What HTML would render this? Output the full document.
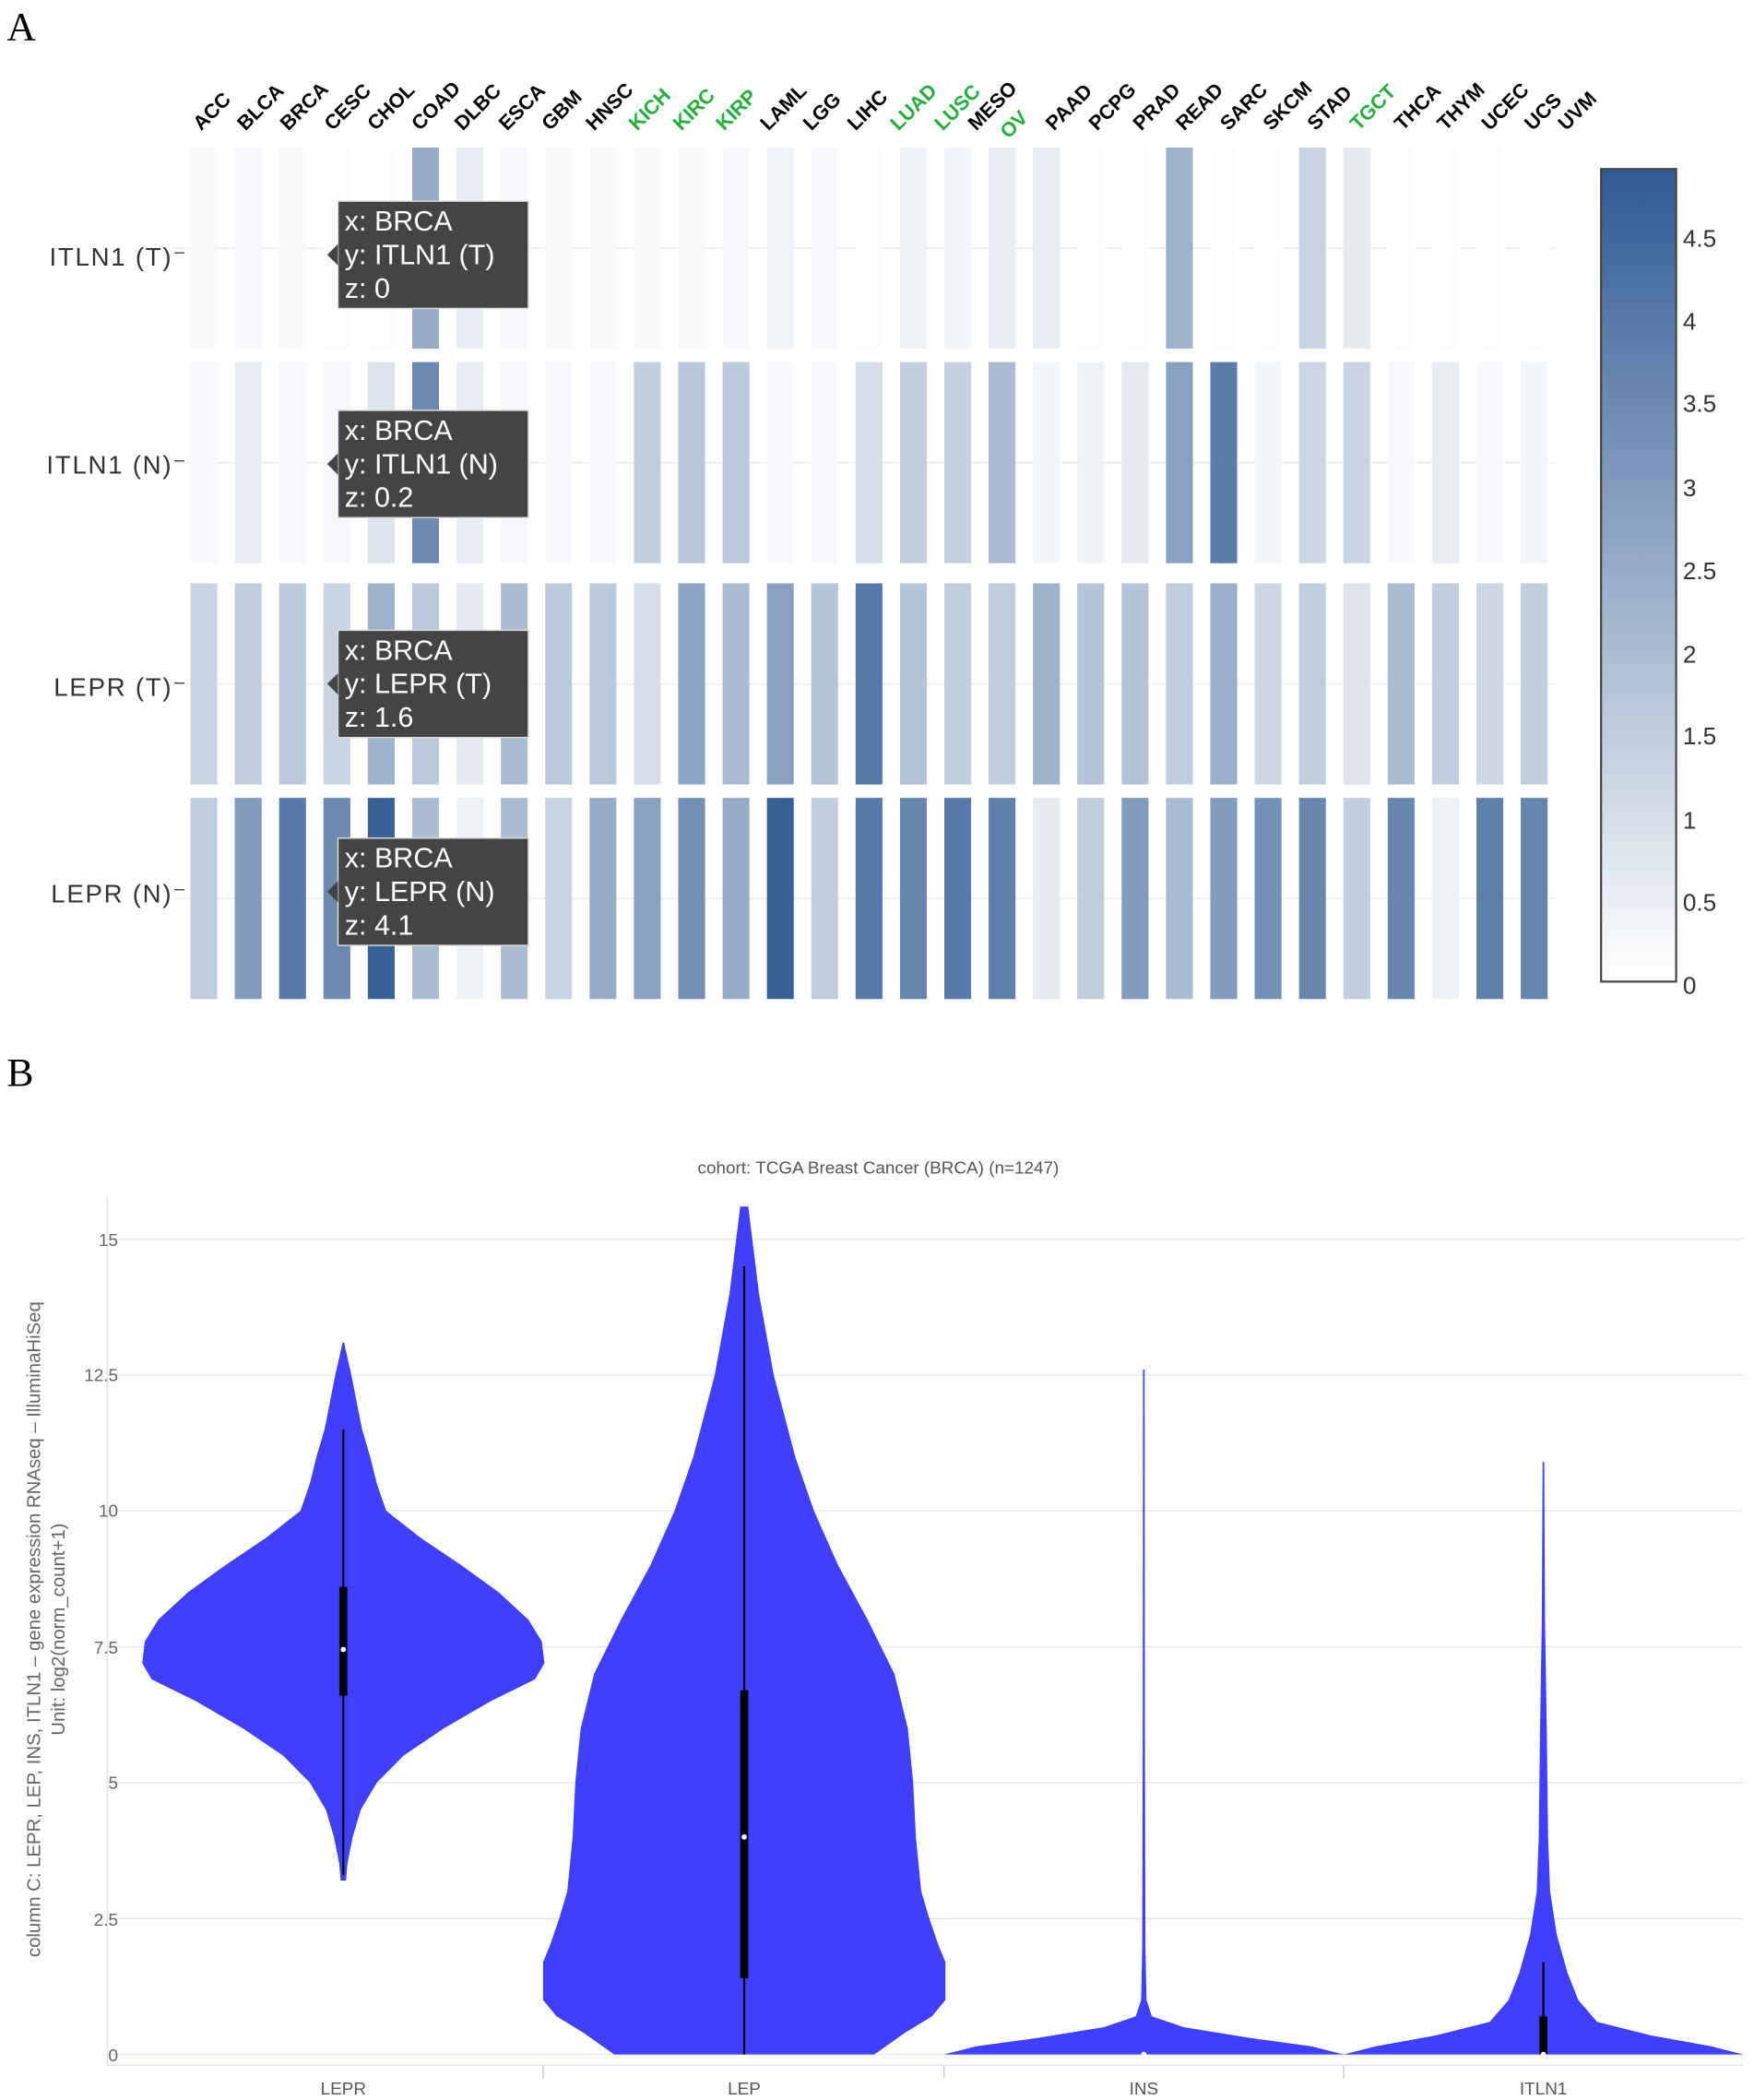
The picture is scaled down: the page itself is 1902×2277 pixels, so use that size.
<!DOCTYPE html>
<html><head><meta charset="utf-8"><style>
html,body{margin:0;padding:0;background:#fff}
svg{display:block}
text{font-family:"Liberation Sans",sans-serif}
</style></head><body>
<svg id="s" width="1902" height="2277" viewBox="0 0 1308 1566" xmlns="http://www.w3.org/2000/svg">
<defs><linearGradient id="cb" x1="0" y1="1" x2="0" y2="0"><stop offset="0" stop-color="#ffffff"/><stop offset="1" stop-color="#2f5b94"/></linearGradient></defs>
<text x="5" y="30" font-size="30" style="font-family:'Liberation Serif',serif">A</text>
<text x="5" y="810" font-size="30" style="font-family:'Liberation Serif',serif">B</text>
<g id="bars"></g>
<g font-size="15" font-weight="bold" id="xl">
<text transform="translate(150,98) rotate(-45)">ACC</text>
<text transform="translate(183,98) rotate(-45)">BLCA</text>
<text transform="translate(215,98) rotate(-45)">BRCA</text>
<text transform="translate(248,98) rotate(-45)">CESC</text>
<text transform="translate(280,98) rotate(-45)">CHOL</text>
<text transform="translate(313,98) rotate(-45)">COAD</text>
<text transform="translate(345,98) rotate(-45)">DLBC</text>
<text transform="translate(378,98) rotate(-45)">ESCA</text>
<text transform="translate(410,98) rotate(-45)">GBM</text>
<text transform="translate(443,98) rotate(-45)">HNSC</text>
<text transform="translate(475,98) rotate(-45)" fill="#22b03c">KICH</text>
<text transform="translate(508,98) rotate(-45)" fill="#22b03c">KIRC</text>
<text transform="translate(540,98) rotate(-45)" fill="#22b03c">KIRP</text>
<text transform="translate(573,98) rotate(-45)">LAML</text>
<text transform="translate(605,98) rotate(-45)">LGG</text>
<text transform="translate(638,98) rotate(-45)">LIHC</text>
<text transform="translate(670,98) rotate(-45)" fill="#22b03c">LUAD</text>
<text transform="translate(703,98) rotate(-45)" fill="#22b03c">LUSC</text>
<text transform="translate(728,98) rotate(-45)">MESO</text>
<text transform="translate(752,104) rotate(-45)" fill="#22b03c">OV</text>
<text transform="translate(786,98) rotate(-45)">PAAD</text>
<text transform="translate(818,98) rotate(-45)">PCPG</text>
<text transform="translate(851,98) rotate(-45)">PRAD</text>
<text transform="translate(883,98) rotate(-45)">READ</text>
<text transform="translate(916,98) rotate(-45)">SARC</text>
<text transform="translate(948,98) rotate(-45)">SKCM</text>
<text transform="translate(981,98) rotate(-45)">STAD</text>
<text transform="translate(1013,98) rotate(-45)" fill="#22b03c">TGCT</text>
<text transform="translate(1046,98) rotate(-45)">THCA</text>
<text transform="translate(1078,98) rotate(-45)">THYM</text>
<text transform="translate(1111,98) rotate(-45)">UCEC</text>
<text transform="translate(1143,98) rotate(-45)">UCS</text>
<text transform="translate(1168,98) rotate(-45)">UVM</text>
</g>
<g font-size="19" fill="#333" text-anchor="end" letter-spacing="1.2">
<text x="140" y="198">ITLN1 (T)⁻</text>
<text x="140" y="353">ITLN1 (N)⁻</text>
<text x="140" y="519">LEPR (T)⁻</text>
<text x="140" y="673">LEPR (N)⁻</text>
</g>
<g id="tips" font-size="21" fill="#fff"></g>
<rect x="1194" y="126" width="56" height="606" fill="url(#cb)" stroke="#444" stroke-width="1.5"/>
<g font-size="18" fill="#333">
<text x="1255" y="184">4.5</text><text x="1255" y="246">4</text><text x="1255" y="307">3.5</text>
<text x="1255" y="370">3</text><text x="1255" y="432">2.5</text><text x="1255" y="494">2</text>
<text x="1255" y="555">1.5</text><text x="1255" y="618">1</text><text x="1255" y="679">0.5</text>
<text x="1255" y="741">0</text>
</g>
<text x="655" y="875" font-size="13" fill="#555" text-anchor="middle">cohort: TCGA Breast Cancer (BRCA) (n=1247)</text>
<g id="grid" stroke="#e3e8f2" stroke-width="1"></g>
<line x1="80" y1="893" x2="80" y2="1540" stroke="#dde3ef"/>
<line x1="80" y1="1540" x2="1300" y2="1540" stroke="#dde3ef"/>
<g font-size="13" fill="#666" text-anchor="end">
<text x="88" y="929">15</text><text x="88" y="1030">12.5</text><text x="88" y="1131">10</text>
<text x="88" y="1233">7.5</text><text x="88" y="1334">5</text><text x="88" y="1436">2.5</text>
<text x="88" y="1537">0</text>
</g>
<g font-size="13" fill="#555" text-anchor="middle">
<text x="256" y="1562">LEPR</text><text x="555" y="1562">LEP</text><text x="853" y="1562">INS</text><text x="1151" y="1562">ITLN1</text>
</g>
<g font-size="14" fill="#666" text-anchor="middle">
<text transform="translate(30,1215) rotate(-90)">column C: LEPR, LEP, INS, ITLN1 – gene expression RNAseq – IlluminaHiSeq</text>
<text transform="translate(48,1215) rotate(-90)">Unit: log2(norm_count+1)</text>
</g>
<g id="vio"></g>
</svg>
<script>
var NS="http://www.w3.org/2000/svg";
function el(p,t,a){var e=document.createElementNS(NS,t);for(var k in a)e.setAttribute(k,a[k]);p.appendChild(e);return e;}
function col(v){var t=Math.max(0,Math.min(1,v/4.9));var r=Math.round(255+(47-255)*t),g=Math.round(255+(91-255)*t),b=Math.round(255+(148-255)*t);return "rgb("+r+","+g+","+b+")";}
var rows=[
[0,0.2,0,0.1,0.1,2.5,0.5,0.2,0,0,0,0,0.2,0.3,0.2,0.1,0.4,0.3,0.5,0.5,0.1,0.1,2.3,0.1,0.1,1.3,0.6,0.1,0.1,0.1,0.1],
[0.2,0.5,0.2,0.2,0.8,3.5,0.5,0.2,0.2,0.2,1.5,1.7,1.6,0.2,0.2,1,1.5,1.4,2,0.3,0.4,0.6,2.8,3.9,0.3,1.2,1.3,0.2,0.5,0.2,0.3],
[1.3,1.5,1.6,1.3,2.3,1.6,0.6,2,1.6,1.6,1,2.7,2,2.8,1.8,4,1.8,1.5,1.5,2.3,1.8,1.8,1.5,2.4,1.2,1.5,0.8,2,1.5,1.2,1.5],
[1.5,3,4,3.5,4.7,2,0.4,2,1.3,2.5,2.8,3.3,2.5,4.7,1.5,4,3.6,4,3.8,0.6,1.5,3,2,3,3.3,3.6,1.5,3.6,0.4,3.8,3.6]];
var ys=[[110,260],[270,420],[435,585],[595,745]];
var B=document.getElementById("bars");
rows.forEach(function(r,ri){el(B,"line",{x1:130,x2:1160,y1:(ys[ri][0]+ys[ri][1])/2,y2:(ys[ri][0]+ys[ri][1])/2,stroke:"#eee"});
r.forEach(function(v,i){var c=152+i*33.07;el(B,"rect",{x:c-10,y:ys[ri][0],width:20,height:ys[ri][1]-ys[ri][0],fill:v<0.05?"#f8f9fb":col(v)});});});
var T=document.getElementById("tips");
var tips=[[150,"ITLN1 (T)","0"],[306,"ITLN1 (N)","0.2"],[470,"LEPR (T)","1.6"],[625,"LEPR (N)","4.1"]];
tips.forEach(function(t){var y=t[0];el(T,"rect",{x:252,y:y,width:142,height:80,fill:"#444",stroke:"#ddd"});
el(T,"path",{d:"M252 "+(y+32)+" L244 "+(y+40)+" L252 "+(y+48)+"Z",fill:"#444"});
var a=el(T,"text",{x:257,y:y+22});a.textContent="x: BRCA";var b=el(T,"text",{x:257,y:y+47});b.textContent="y: "+t[1];var c=el(T,"text",{x:257,y:y+72});c.textContent="z: "+t[2];});
var G=document.getElementById("grid");
function Y(v){return 1532-v*40.53;}
[0,2.5,5,7.5,10,12.5,15].forEach(function(v){el(G,"line",{x1:80,x2:1300,y1:Y(v),y2:Y(v)});});
[405,704,1002].forEach(function(x){el(G,"line",{x1:x,x2:x,y1:1540,y2:1550,stroke:"#ccc"});});
var V=document.getElementById("vio");
function violin(cx,pts){var L=[],R=[];pts.forEach(function(p){R.push((cx+p[1])+","+Y(p[0]));L.unshift((cx-p[1])+","+Y(p[0]));});
el(V,"path",{d:"M"+R.join(" L")+" L"+L.join(" L")+"Z",fill:"#3f3ffd"});}
violin(256,[[13.1,0.5],[12.5,6],[11.5,14],[11,20],[10.5,25],[10,32],[9.5,58],[9,88],[8.5,116],[8,138],[7.6,148],[7.2,150],[6.9,143],[6.5,110],[6,75],[5.5,45],[5,25],[4.5,13],[4,7],[3.5,3],[3.2,2]]);
violin(555,[[15.6,3],[15,6],[14,11],[12.5,22],[11,38],[10,52],[9,70],[8,92],[7,112],[6,122],[5,126],[4,128],[3,132],[2.5,138],[2,145],[1.7,150],[1,150],[0.7,140],[0.4,120],[0,97]]);
violin(853,[[12.6,0.6],[6,0.8],[2,1.2],[1,2],[0.7,6],[0.5,30],[0.3,80],[0.15,125],[0,149]]);
violin(1151,[[10.9,0.6],[8,1.2],[6,2.5],[4,3.5],[3,5],[2.2,10],[1.5,18],[1,26],[0.6,40],[0.35,80],[0.15,125],[0,149]]);
function box(cx,w0,w1,b0,b1,m){el(V,"line",{x1:cx,x2:cx,y1:Y(w1),y2:Y(w0),stroke:"#000","stroke-width":1.5});
el(V,"rect",{x:cx-3,y:Y(b1),width:6,height:Y(b0)-Y(b1),fill:"#000"});el(V,"circle",{cx:cx,cy:Y(m),r:2,fill:"#fff"});}
box(256,3.3,11.5,6.6,8.6,7.45);box(555,0,14.5,1.4,6.7,4);box(853,0,0,0,0,0);box(1151,0,1.7,0,0.7,0);
</script>
</body></html>
